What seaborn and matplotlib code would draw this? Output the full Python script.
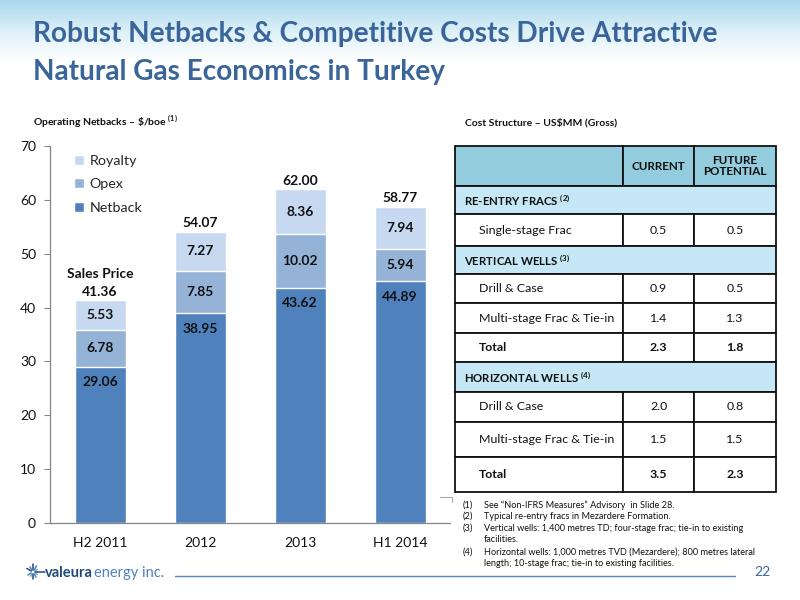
import numpy as np
import matplotlib
matplotlib.use("Agg")
import matplotlib.pyplot as plt
from matplotlib.patches import Rectangle
from matplotlib.colors import LinearSegmentedColormap
import pandas as pd
import seaborn as sns

# chart data ($/boe)
periods = ["H2 2011", "2012", "2013", "H1 2014"]
netback = [29.06, 38.95, 43.62, 44.89]
opex = [6.78, 7.85, 10.02, 5.94]
royalty = [5.53, 7.27, 8.36, 7.94]
sales_price = [41.36, 54.07, 62.00, 58.77]

# cost structure table (US$MM gross)
row_labels = ["RE-ENTRY FRACS", "Single-stage Frac", "VERTICAL WELLS", "Drill & Case",
              "Multi-stage Frac & Tie-in", "Total", "HORIZONTAL WELLS", "Drill & Case",
              "Multi-stage Frac & Tie-in", "Total"]
row_notes = ["(2)", "", "(3)", "", "", "", "(4)", "", "", ""]
current = [None, 0.5, None, 0.9, 1.4, 2.3, None, 2.0, 1.5, 3.5]
future = [None, 0.5, None, 0.5, 1.3, 1.8, None, 0.8, 1.5, 2.3]

footnotes = [
    ("(1)", ["See \u201cNon-IFRS Measures\u201d Advisory  in Slide 28."]),
    ("(2)", ["Typical re-entry fracs in Mezardere Formation."]),
    ("(3)", ["Vertical wells: 1,400 metres TD; four-stage frac; tie-in to existing",
             "facilities."]),
    ("(4)", ["Horizontal wells: 1,000 metres TVD (Mezardere); 800 metres lateral",
             "length; 10-stage frac; tie-in to existing facilities."]),
]

c_net = "#4F81BD"
c_opex = "#95B3D7"
c_roy = "#C6D9F1"
title_blue = "#3A659B"

sns.set_theme(style="white")
plt.rcParams['font.family'] = ['Lato', 'DejaVu Sans']
plt.rcParams['mathtext.fontset'] = 'custom'
plt.rcParams['mathtext.rm'] = 'Lato'
plt.rcParams['mathtext.bf'] = 'Lato:bold'

fig = plt.figure(figsize=(8, 6), dpi=100)

# slide background / decoration layer in pixel coords
deco = fig.add_axes([0, 0, 1, 1], zorder=0)
deco.set_xlim(0, 800)
deco.set_ylim(600, 0)
deco.axis("off")
grad = np.linspace(0, 1, 100).reshape(-1, 1)
cmap = LinearSegmentedColormap.from_list("top", ["#A9D7EB", "#DDF0F8", "#FFFFFF"])
deco.imshow(grad, extent=[0, 800, 62, 0], aspect="auto", cmap=cmap, zorder=0)

deco.text(33, 42, "Robust Netbacks & Competitive Costs Drive Attractive", fontsize=20.2,
          weight="bold", color=title_blue, va="baseline")
deco.text(33, 80, "Natural Gas Economics in Turkey", fontsize=20.2,
          weight="bold", color=title_blue, va="baseline")

deco.text(33, 122, r"Operating Netbacks – \$/boe $^{\mathbf{(1)}}$", fontsize=7.5,
          weight="bold", color="#111111", va="center")
deco.text(465, 123, "Cost Structure – US$MM (Gross)", fontsize=7.5,
          weight="bold", color="#111111", va="center")

# chart
df = pd.DataFrame({"period": periods, "Netback": netback, "Opex": opex, "Royalty": royalty})
df["opex_top"] = df["Netback"] + df["Opex"]
df["royalty_top"] = df["opex_top"] + df["Royalty"]

ax = fig.add_axes([0.0625, 0.1283, 0.5, 0.6283], zorder=2)
ax.set_facecolor("none")
sns.barplot(data=df, x="period", y="royalty_top", color=c_roy, width=0.51,
            saturation=1, errorbar=None, label="Royalty", ax=ax)
sns.barplot(data=df, x="period", y="opex_top", color=c_opex, width=0.51,
            saturation=1, errorbar=None, label="Opex", ax=ax)
sns.barplot(data=df, x="period", y="Netback", color=c_net, width=0.51,
            saturation=1, errorbar=None, label="Netback", ax=ax)

for i in range(len(periods)):
    kw = dict(ha="center", va="center", fontsize=10, weight="bold", color="#111111")
    ax.text(i, netback[i] - 2.85, f"{netback[i]:.2f}", **kw)
    ax.text(i, netback[i] + opex[i] / 2, f"{opex[i]:.2f}", **kw)
    ax.text(i, netback[i] + opex[i] + royalty[i] / 2, f"{royalty[i]:.2f}", **kw)
    ax.text(i, sales_price[i] + 1.6, f"{sales_price[i]:.2f}", **kw)
ax.text(0, sales_price[0] + 4.9, "Sales Price", ha="center", va="center",
        fontsize=10, weight="bold", color="#111111")

ax.set_xlim(-0.5, 3.5)
ax.set_ylim(0, 70)
ax.set_yticks(range(0, 71, 10))
ax.set_xlabel("")
ax.set_ylabel("")
ax.set_xticks(np.arange(-0.5, 3.6, 1), minor=True)
ax.tick_params(axis="x", which="major", length=0, pad=10, labelsize=10, labelcolor="#111111")
ax.tick_params(axis="x", which="minor", length=5, width=0.8, color="#868686", direction="out")
ax.tick_params(axis="y", length=4, width=0.8, color="#868686", direction="out",
               pad=6, labelsize=10, labelcolor="#111111", left=True)
sns.despine(ax=ax)
for s in ["left", "bottom"]:
    ax.spines[s].set_color("#868686")
    ax.spines[s].set_linewidth(0.9)

ax.legend(loc="upper left", bbox_to_anchor=(0.038, 1.0), frameon=False, fontsize=10.3,
          handlelength=0.7, handleheight=0.7, handletextpad=0.4, labelspacing=0.8,
          borderaxespad=0.2)

# table
xs = [455, 623, 694, 776]
header_h = 40
row_h = [28, 32, 28, 29, 30, 29, 30, 30, 35, 35]
hdr_fill = "#93CDDD"
sec_fill = "#C6E8F6"
lw = 1.3
fs_cell = 8.9
y = 146
for j in range(3):
    deco.add_patch(Rectangle((xs[j], y), xs[j + 1] - xs[j], header_h, fc=hdr_fill,
                             ec="#111111", lw=lw, zorder=3))
deco.text((xs[1] + xs[2]) / 2, y + header_h / 2, "CURRENT", ha="center", va="center",
          fontsize=8.4, weight="bold", color="#111111", zorder=4)
deco.text((xs[2] + xs[3]) / 2, y + header_h / 2, "FUTURE\nPOTENTIAL", ha="center",
          va="center", fontsize=8.4, weight="bold", color="#111111", linespacing=1.1, zorder=4)
y += header_h
for k, lab in enumerate(row_labels):
    h = row_h[k]
    if current[k] is None:
        deco.add_patch(Rectangle((xs[0], y), xs[3] - xs[0], h, fc=sec_fill,
                                 ec="#111111", lw=lw, zorder=3))
        deco.text(464, y + h / 2, lab + r" $^{\mathbf{" + row_notes[k] + "}}$", ha="left",
                  va="center", fontsize=8.2, weight="bold", color="#111111", zorder=4)
    else:
        for j in range(3):
            deco.add_patch(Rectangle((xs[j], y), xs[j + 1] - xs[j], h, fc="white",
                                     ec="#111111", lw=lw, zorder=3))
        wt = "bold" if lab == "Total" else "normal"
        deco.text(479, y + h / 2, lab, ha="left", va="center", fontsize=fs_cell,
                  weight=wt, color="#111111", zorder=4)
        deco.text((xs[1] + xs[2]) / 2, y + h / 2, f"{current[k]:.1f}", ha="center",
                  va="center", fontsize=fs_cell, weight=wt, color="#111111", zorder=4)
        deco.text((xs[2] + xs[3]) / 2, y + h / 2, f"{future[k]:.1f}", ha="center",
                  va="center", fontsize=fs_cell, weight=wt, color="#111111", zorder=4)
    y += h

# footnotes, one text per printed line
line_y = [505, 516.5, 528.5, 540, 552.5, 564]
n = 0
for num, lines in footnotes:
    deco.text(463, line_y[n], num, fontsize=6.6, color="#111111", va="center")
    for ln in lines:
        deco.text(484, line_y[n], ln, fontsize=6.6, color="#111111", va="center")
        n += 1

# stray chart frame corner
deco.plot([440, 452, 452], [497, 497, 502], color="#A6A6A6", lw=0.8)

# footer line, page number and logo
deco.plot([175, 735], [576, 576], color="#5B85B8", lw=1.0)
deco.text(762, 572, "22", fontsize=10, color="#3A659B", ha="center", va="center")
cx, cy = 33, 572
for ang, ln, col in [(90, 8, "#1F497D"), (60, 7, "#4F81BD"), (30, 5, "#7FA6D3"),
                     (120, 6, "#4F81BD"), (150, 7, "#1F497D"), (210, 6, "#4F81BD"),
                     (240, 5, "#7FA6D3"), (270, 7, "#1F497D"), (300, 6, "#4F81BD"),
                     (330, 5, "#7FA6D3")]:
    a = np.deg2rad(ang)
    deco.plot([cx + 2 * np.cos(a), cx + ln * np.cos(a)], [cy - 2 * np.sin(a), cy - ln * np.sin(a)],
              color=col, lw=1.1, solid_capstyle="round")
deco.plot([cx + 2, cx + 12], [cy, cy], color="#1F497D", lw=1.1)
logo1 = deco.text(45, 577, "valeura", fontsize=10.5, weight="bold", color="#1F497D",
                  va="baseline")
renderer = fig.canvas.get_renderer()
bb = logo1.get_window_extent(renderer)
deco.text(45 + bb.width + 1.5, 577, "energy inc.", fontsize=10.5, color="#4F81BD",
          va="baseline")

fig.savefig("out.png", dpi=100)
